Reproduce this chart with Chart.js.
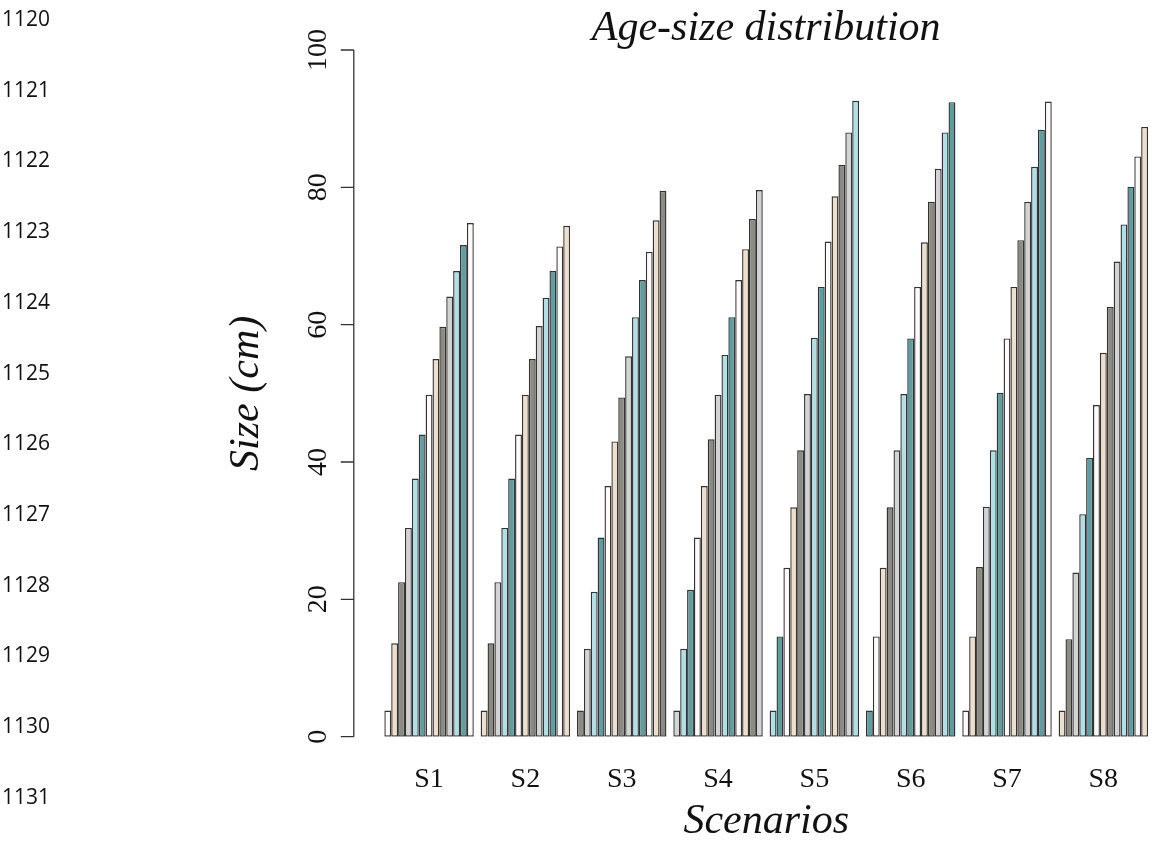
<!DOCTYPE html>
<html>
<head>
<meta charset="utf-8">
<script src="https://cdn.jsdelivr.net/npm/chart.js@4.4.1/dist/chart.umd.min.js"></script>
<style>
  body { margin: 0; background: #fff; }
  #wrap { position: relative; width: 1154px; height: 843px; overflow: hidden; }
  #chart { position: absolute; left: 0; top: 0; }
  .ln { position: absolute; left: 2px; font-family: "Open Sans", Lato, sans-serif; font-size: 21px; color: #111; line-height: 1; }
</style>
</head>
<body>
<div id="wrap">
  <canvas id="chart" width="1154" height="843"></canvas>
</div>
<script>
// line numbers from the manuscript margin
const lineNumbers = ['1120', '1121', '1122', '1123', '1124', '1125', '1126', '1127', '1128', '1129', '1130', '1131'];

const scenarios = ['S1', 'S2', 'S3', 'S4', 'S5', 'S6', 'S7', 'S8'];
const yTicks = [0, 20, 40, 60, 80, 100];

// size (cm) at each of the 13 age classes, per scenario
const s1 = [3.8, 13.6, 22.5, 30.4, 37.6, 44.0, 49.8, 55.0, 59.7, 64.1, 67.8, 71.6, 74.8];
const s2 = [3.8, 13.6, 22.5, 30.4, 37.6, 44.0, 49.8, 55.0, 59.8, 63.9, 67.8, 71.4, 74.4];
const s3 = [3.8, 12.8, 21.1, 29.0, 36.5, 43.0, 49.4, 55.4, 61.1, 66.5, 70.6, 75.2, 79.5];
const s4 = [3.8, 12.8, 21.4, 29.0, 36.5, 43.3, 49.8, 55.6, 61.1, 66.5, 71.0, 75.4, 79.6];
const s5 = [3.8, 14.6, 24.6, 33.4, 41.7, 49.9, 58.1, 65.5, 72.1, 78.7, 83.3, 88.0, 92.6];
const s6 = [3.8, 14.6, 24.6, 33.4, 41.7, 49.9, 58.0, 65.5, 72.0, 77.9, 82.7, 88.0, 92.4];
const s7 = [3.8, 14.6, 24.7, 33.5, 41.7, 50.1, 58.0, 65.5, 72.3, 77.9, 83.0, 88.4, 92.5];
const s8 = [3.8, 14.2, 23.9, 32.4, 40.6, 48.3, 55.9, 62.6, 69.2, 74.6, 80.1, 84.5, 88.8];

// R colour vector, recycled over all bars
const palette = ['#FFFAFA', '#EEDFCC', '#8B8B83', '#D3D3D3', '#B0E0E6', '#5F9EA0'];

const series = [s1, s2, s3, s4, s5, s6, s7, s8];
const nAges = s1.length;

const datasets = [];
for (let k = 0; k < nAges; k++) {
  datasets.push({
    data: series.map(s => s[k]),
    backgroundColor: series.map((s, j) => palette[(j * nAges + k) % palette.length]),
    borderColor: '#333',
    borderWidth: 1.4,
    borderSkipped: false,
    categoryPercentage: nAges / (nAges + 1),
    barPercentage: 1
  });
}

const serif = '"Liberation Serif", "DejaVu Serif", serif';

// draws the R style axis, labels and titles
const rAxes = {
  id: 'rAxes',
  afterDraw(chart) {
    const ctx = chart.ctx;
    const area = chart.chartArea;
    const x = chart.scales.x;
    const y = chart.scales.y;
    const w = (area.right - area.left) / (scenarios.length * (nAges + 1));
    const axisX = area.left + 0.5 * w - 4.44 * w;
    const midX = (area.left + area.right) / 2;

    ctx.save();
    ctx.strokeStyle = '#333';
    ctx.lineWidth = 1.3;
    ctx.beginPath();
    ctx.moveTo(axisX, y.getPixelForValue(yTicks[0]));
    ctx.lineTo(axisX, y.getPixelForValue(yTicks[yTicks.length - 1]));
    yTicks.forEach(t => {
      const py = y.getPixelForValue(t);
      ctx.moveTo(axisX, py);
      ctx.lineTo(axisX - 13, py);
    });
    ctx.stroke();

    ctx.fillStyle = '#111';
    ctx.font = '28px ' + serif;
    ctx.textAlign = 'center';
    ctx.textBaseline = 'alphabetic';
    yTicks.forEach(t => {
      ctx.save();
      ctx.translate(axisX - 28, y.getPixelForValue(t));
      ctx.rotate(-Math.PI / 2);
      ctx.fillText(String(t), 0, 0);
      ctx.restore();
    });

    scenarios.forEach((s, i) => {
      ctx.fillText(s, x.getPixelForValue(i), area.bottom + 50);
    });

    ctx.font = 'italic 42px ' + serif;
    ctx.fillText('Scenarios', midX, area.bottom + 96);
    ctx.fillText('Age-size distribution', midX, 40);

    ctx.save();
    ctx.translate(axisX - 96, (area.top + area.bottom) / 2);
    ctx.rotate(-Math.PI / 2);
    ctx.fillText('Size (cm)', 0, 0);
    ctx.restore();
    ctx.restore();
  }
};

new Chart(document.getElementById('chart'), {
  type: 'bar',
  data: { labels: scenarios, datasets: datasets },
  options: {
    responsive: false,
    animation: false,
    devicePixelRatio: 1,
    layout: { padding: { left: 380.9, right: 2.5, top: 50, bottom: 106.3 } },
    plugins: { legend: { display: false }, tooltip: { enabled: false } },
    scales: {
      x: { display: false, offset: true },
      y: { display: false, min: 0, max: 100 }
    }
  },
  plugins: [rAxes]
});

const wrap = document.getElementById('wrap');
lineNumbers.forEach((n, i) => {
  const d = document.createElement('div');
  d.className = 'ln';
  d.textContent = n;
  d.style.top = (8 + i * 70.7) + 'px';
  wrap.appendChild(d);
});
</script>
</body>
</html>
